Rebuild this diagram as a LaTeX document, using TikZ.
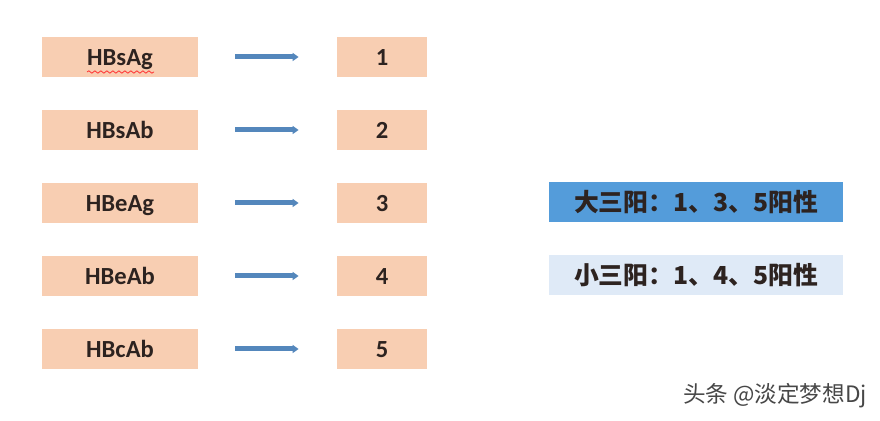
\documentclass[tikz,border=0pt]{standalone}
\usepackage{fontspec}
\setmainfont{Carlito}
\newfontfamily\cjk{Noto Sans CJK SC}
\usetikzlibrary{arrows.meta,decorations.pathmorphing}
\definecolor{peach}{RGB}{248,206,178}
\definecolor{linkblue}{RGB}{84,135,188}
\definecolor{strongblue}{RGB}{84,156,218}
\definecolor{paleblue}{RGB}{223,234,247}
\definecolor{inkgray}{RGB}{45,35,32}
\tikzset{
	markerbox/.style={fill=peach, inner sep=0pt, minimum width=78pt, minimum height=20pt, text height=10pt, text depth=1.5pt, text=inkgray, font=\bfseries\fontsize{12.3}{14}\selectfont},
	valuebox/.style={markerbox, minimum width=45pt},
	resultbox/.style={inner sep=0pt, minimum width=147pt, minimum height=20pt, text=inkgray, font=\cjk\bfseries\fontsize{12.4}{14}\selectfont},
	pointer/.style={linkblue, line width=2.5pt, -{Triangle[length=3pt,width=4pt]}, shorten <=18.5pt, shorten >=19pt}
}

\begin{document}
\begin{tikzpicture}[x=0.5pt, y=-0.5pt]
			%%%%% START %%%%%
			
			\useasboundingbox[fill=white] (0, 0) rectangle (880, 421);
			
			\node[markerbox] (sag) at (120, 57) {HBsAg};
			\node[valuebox] (one) at (382, 57) {1};
			\draw[pointer] (sag) -- (one);
			\draw[red!80, line width=0.4pt, decorate, decoration={snake, amplitude=0.6pt, segment length=3pt}] (87, 72) -- (154, 72);
			
			\node[markerbox] (sab) at (120, 130) {HBsAb};
			\node[valuebox] (two) at (382, 130) {2};
			\draw[pointer] (sab) -- (two);
			
			\node[markerbox] (eag) at (120, 203) {HBeAg};
			\node[valuebox] (three) at (382, 203) {3};
			\draw[pointer] (eag) -- (three);
			
			\node[markerbox] (eab) at (120, 276) {HBeAb};
			\node[valuebox] (four) at (382, 276) {4};
			\draw[pointer] (eab) -- (four);
			
			\node[markerbox] (cab) at (120, 349) {HBcAb};
			\node[valuebox] (five) at (382, 349) {5};
			\draw[pointer] (cab) -- (five);
			
			\node[resultbox, fill=strongblue] (big) at (696, 202) {大三阳：1、3、5阳性};
			\node[resultbox, fill=paleblue] (small) at (696, 275.5) {小三阳：1、4、5阳性};
			
			\node[text=black!72, font=\cjk\fontsize{11.3}{13}\selectfont] (mark) at (775, 396) {头条 @淡定梦想Dj};
			
			%%%%% END %%%%%
		\end{tikzpicture}
\end{document}
